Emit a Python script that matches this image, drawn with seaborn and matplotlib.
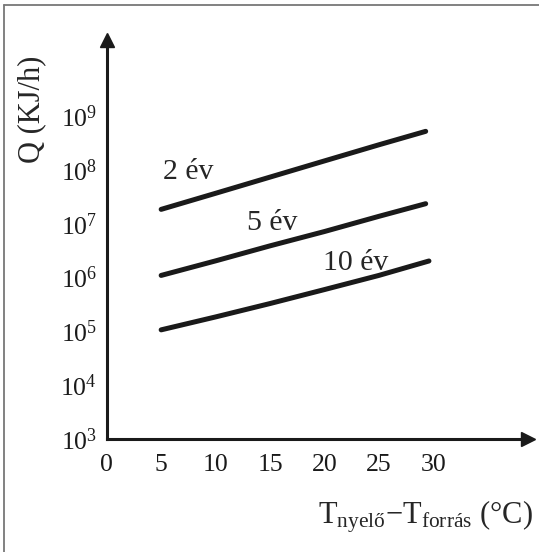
import numpy as np
import pandas as pd
import matplotlib
matplotlib.use("Agg")
import matplotlib.pyplot as plt
from matplotlib.lines import Line2D
import seaborn as sns

# ---- data ----
x_2ev = [5, 10, 15, 20, 25, 29.3]
q_2ev = [1.86e7, 3.7e7, 7.4e7, 1.48e8, 2.95e8, 5.25e8]
x_5ev = [5, 10, 15, 20, 25, 29.3]
q_5ev = [1.1e6, 2.05e6, 3.9e6, 7.2e6, 1.38e7, 2.37e7]
x_10ev = [5, 10, 15, 20, 25, 29.6]
q_10ev = [1.07e5, 1.86e5, 3.3e5, 6.0e5, 1.1e6, 2.04e6]
series_names = ["2 év", "5 év", "10 év"]
x_ticks = [0, 5, 10, 15, 20, 25, 30]
y_exponents = [3, 4, 5, 6, 7, 8, 9]

df = pd.concat([
    pd.DataFrame({"T": x_2ev, "Q": q_2ev, "s": series_names[0]}),
    pd.DataFrame({"T": x_5ev, "Q": q_5ev, "s": series_names[1]}),
    pd.DataFrame({"T": x_10ev, "Q": q_10ev, "s": series_names[2]}),
])

sns.set_style("white")
plt.rcParams["font.family"] = ["Liberation Serif", "DejaVu Serif"]
plt.rcParams["mathtext.fontset"] = "custom"
plt.rcParams["mathtext.rm"] = "Liberation Serif"
plt.rcParams["mathtext.it"] = "Liberation Serif:italic"

ink = "#1a1a1a"
fig = plt.figure(figsize=(5.39, 5.52), dpi=100)
ax = fig.add_axes([0.198, 0.2047, 0.7816, 0.723])

sns.lineplot(data=df, x="T", y="Q", hue="s", palette=[ink] * 3,
             linewidth=3.6, legend=False, ax=ax, sort=False, estimator=None)

ax.set_yscale("log")
ax.set_xlim(0, 38.7)
ax.set_ylim(1e3, 10 ** 10.42)

for s in ["top", "right"]:
    ax.spines[s].set_visible(False)
for s in ["left", "bottom"]:
    ax.spines[s].set_linewidth(2.2)
    ax.spines[s].set_color(ink)

ax.set_xticks(x_ticks)
ax.set_xticklabels([str(t) for t in x_ticks], fontsize=18.5)
ax.set_yticks([10.0 ** e for e in y_exponents])
ax.set_yticklabels([rf"$10^{{{e}}}$" for e in y_exponents], fontsize=18.5)
ax.yaxis.set_minor_locator(matplotlib.ticker.NullLocator())
ax.tick_params(axis="x", direction="in", length=9.5, width=1.1, pad=10.5, colors=ink)
ax.tick_params(axis="y", direction="in", length=4.5, width=1.1, pad=7, colors=ink)
ax.set_xlabel("")
ax.set_ylabel("")

# arrows at axis ends
ax.plot(1, 0, ">", color=ink, markersize=10, transform=ax.transAxes, clip_on=False)
ax.plot(0, 1, "^", color=ink, markersize=10, transform=ax.transAxes, clip_on=False)

# series labels
ax.text(5.15, 10 ** 7.84, series_names[0], fontsize=21.5, va="baseline", ha="left")
ax.text(12.87, 10 ** 6.88, series_names[1], fontsize=21.5, va="baseline", ha="left")
ax.text(19.85, 10 ** 6.15, series_names[2], fontsize=21.5, va="baseline", ha="left")

# axis titles
fig.text(0.0588, 0.8025, "Q (KJ/h)", rotation=90, fontsize=22, ha="center", va="center")
fig.text(0.989, 0.0525,
         r"$\mathrm{T}_{\mathrm{nyelő}}\mathrm{-T}_{\mathrm{forrás}}$ (°C)",
         fontsize=22, ha="right", va="baseline")

# scanned page border (top and left only)
fig.add_artist(Line2D([0.0075, 1.0], [0.991, 0.991], transform=fig.transFigure,
                      color="#777777", linewidth=1.3))
fig.add_artist(Line2D([0.0075, 0.0075], [0.0, 0.991], transform=fig.transFigure,
                      color="#777777", linewidth=1.3))

fig.savefig("out.png", dpi=100)
